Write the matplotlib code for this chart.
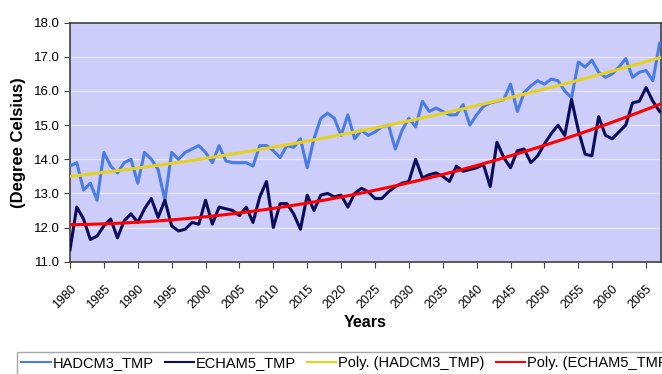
import numpy as np
import matplotlib
matplotlib.use("Agg")
import matplotlib.pyplot as plt

plt.rcParams['font.family'] = ['Liberation Sans', 'DejaVu Sans']

years = list(range(1980, 2068))

hadcm3 = [13.8, 13.9, 13.1, 13.3, 12.8, 14.2, 13.8, 13.6, 13.9, 14.0,
          13.3, 14.2, 14.0, 13.7, 12.8, 14.2, 14.0, 14.2, 14.3, 14.4,
          14.2, 13.9, 14.4, 13.95, 13.9, 13.9, 13.9, 13.8, 14.4, 14.4,
          14.25, 14.05, 14.4, 14.35, 14.6, 13.75, 14.6, 15.2, 15.35, 15.2,
          14.7, 15.3, 14.6, 14.85, 14.7, 14.8, 14.95, 15.0, 14.3, 14.85,
          15.2, 14.95, 15.7, 15.4, 15.5, 15.4, 15.3, 15.3, 15.6, 15.0,
          15.3, 15.55, 15.65, 15.7, 15.75, 16.2, 15.4, 15.95, 16.15, 16.3,
          16.2, 16.35, 16.3, 16.0, 15.8, 16.85, 16.7, 16.9, 16.55, 16.4,
          16.5, 16.7, 16.95, 16.4, 16.55, 16.6, 16.3, 17.4]

echam5 = [11.35, 12.6, 12.25, 11.65, 11.75, 12.05, 12.25, 11.7, 12.2, 12.4,
          12.15, 12.55, 12.85, 12.3, 12.8, 12.05, 11.9, 11.95, 12.15, 12.1,
          12.8, 12.1, 12.6, 12.55, 12.5, 12.35, 12.6, 12.15, 12.9, 13.35,
          12.0, 12.7, 12.7, 12.4, 11.95, 12.95, 12.5, 12.95, 13.0, 12.9,
          12.95, 12.6, 13.0, 13.15, 13.05, 12.85, 12.85, 13.05, 13.2, 13.3,
          13.35, 14.0, 13.45, 13.55, 13.6, 13.5, 13.35, 13.8, 13.65, 13.7,
          13.75, 13.85, 13.2, 14.5, 14.05, 13.75, 14.25, 14.3, 13.9, 14.1,
          14.45, 14.75, 15.0, 14.7, 15.75, 14.85, 14.15, 14.1, 15.25, 14.7,
          14.6, 14.8, 15.0, 15.65, 15.7, 16.1, 15.7, 15.4]

x_ticks = list(range(1980, 2066, 5))
y_ticks = [11.0, 12.0, 13.0, 14.0, 15.0, 16.0, 17.0, 18.0]

c_had = '#4a7ce6'
c_ech = '#0c0c5a'
c_had_poly = '#e6d21e'
c_ech_poly = '#ff0000'

fig = plt.figure(figsize=(6.62, 3.74), dpi=100)
ax = fig.add_axes([70 / 662, 1 - 261.7 / 374, 591 / 662, 239 / 374])
ax.set_facecolor('#cccdf8')

# 2nd order trendlines, like excel's "Poly." option
x = np.array(years, dtype=float)
p_had = np.polyval(np.polyfit(x - 1980, hadcm3, 2), x - 1980)
p_ech = np.polyval(np.polyfit(x - 1980, echam5, 2), x - 1980)

ax.plot(years, hadcm3, color=c_had, lw=2.2, label='HADCM3_TMP', zorder=3)
ax.plot(years, echam5, color=c_ech, lw=2.2, label='ECHAM5_TMP', zorder=3)
ax.plot(years, p_had, color=c_had_poly, lw=2.2, label='Poly. (HADCM3_TMP)', zorder=4)
ax.plot(years, p_ech, color=c_ech_poly, lw=2.2, label='Poly. (ECHAM5_TMP)', zorder=4)

ax.set_xlim(1980, 2067.2)
ax.set_ylim(11.0, 18.0)
ax.set_xticks(x_ticks)
ax.set_xticklabels([str(v) for v in x_ticks], rotation=45, ha='right',
                   va='top', rotation_mode='anchor', fontsize=9)
ax.set_yticks(y_ticks)
ax.set_yticklabels(['%.1f' % v for v in y_ticks], fontsize=9.5)
ax.grid(axis='y', color='#e6e6ff', lw=1)
ax.set_axisbelow(True)
ax.tick_params(direction='out', length=4, color='#404040', pad=3)
ax.tick_params(axis='x', pad=11)
for s in ax.spines.values():
    s.set_color('#404040')
    s.set_linewidth(1.2)

ax.set_xlabel('Years', fontsize=11.5, fontweight='bold', labelpad=3)
ax.set_ylabel('(Degree Celsius)', fontsize=12, fontweight='bold', labelpad=6)

leg = fig.legend(loc='upper left', bbox_to_anchor=(17 / 662, 1 - 352 / 374),
                 ncol=4, fontsize=10.5, frameon=True, fancybox=False,
                 handlelength=2.0, handletextpad=0.15, columnspacing=0.75,
                 borderpad=0.3, borderaxespad=0)
leg.get_frame().set_edgecolor('#909090')
leg.get_frame().set_linewidth(1)
for line in leg.get_lines():
    line.set_linewidth(1.5)

fig.savefig('out.png', dpi=100)
